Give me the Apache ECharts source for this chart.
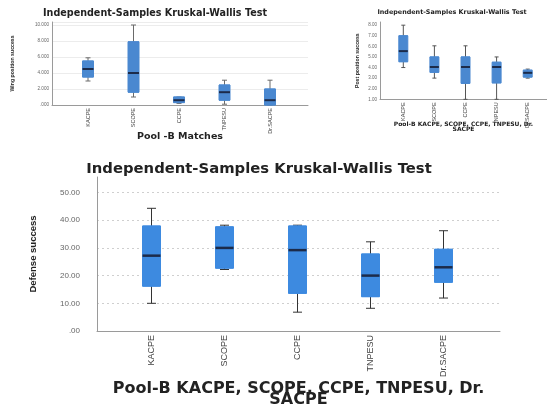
<!DOCTYPE html>
<html>
<head>
<meta charset="utf-8">
<script src="https://cdn.jsdelivr.net/npm/echarts@6/dist/echarts.min.js"></script>
<style>html,body{margin:0;padding:0;background:#fff;}#c{width:547px;height:404px;}</style>
</head>
<body>
<div id="c"></div>
<script>
// ---- data ----
var categories = ['KACPE', 'SCOPE', 'CCPE', 'TNPESU', 'Dr.SACPE'];
var titleText = 'Independent-Samples Kruskal-Wallis Test';

// top-left: Wing position success (Pool -B Matches)
var wingMin = [3.0, 1.0, 0.2, 0.1, 0.0];
var wingQ1  = [3.5, 1.6, 0.3, 0.6, 0.0];
var wingMed = [4.5, 4.0, 0.6, 1.6, 0.6];
var wingQ3  = [5.5, 7.9, 1.0, 2.5, 2.0];
var wingMax = [5.9, 10.0, 1.0, 3.1, 3.1];
var wingTicks = ['.000', '2.000', '4.000', '6.000', '8.000', '10.000'];

// top-right: Post position success
var postMin = [4.0, 3.0, 1.0, 1.0, 3.0];
var postQ1  = [4.55, 3.55, 2.5, 2.55, 3.1];
var postMed = [5.55, 4.05, 4.05, 4.05, 3.5];
var postQ3  = [7.0, 5.0, 5.0, 4.5, 3.75];
var postMax = [8.0, 6.05, 6.05, 5.0, 3.85];
var postTicks = ['1.00', '2.00', '3.00', '4.00', '5.00', '6.00', '7.00', '8.00'];

// bottom: Defense success
var defMin = [10.0, 22.2, 6.8, 8.2, 11.9];
var defQ1  = [16.2, 22.7, 13.6, 12.4, 17.6];
var defMed = [27.2, 30.0, 29.2, 20.0, 23.0];
var defQ3  = [37.9, 37.6, 37.9, 27.8, 29.5];
var defMax = [44.3, 38.2, 38.2, 32.2, 36.2];
var defTicks = ['.00', '10.00', '20.00', '30.00', '40.00', '50.00'];

// ---- build ----
var NARROW = "'Liberation Sans', sans-serif";
var panels = [
  { // top-left
    wide: {left: 52, top: 22, width: 256, height: 83},
    narrow: {left: 65.25, width: 227.5},
    yMin: 0, yMax: 10.375, interval: 2, ticks: wingTicks,
    mins: wingMin, q1: wingQ1, med: wingMed, q3: wingQ3, maxs: wingMax,
    yName: 'Wing position success', yNameSize: 5.2, yNameGap: 37,
    xName: 'Pool -B Matches', xNameSize: 9.5, xNameGap: 27, xNameLH: 9,
    tickSize: 4.6, tickMargin: 3, catSize: 5.5, catMargin: 3,
    boxW: 11, capW: 5, medW: 2, fill: '#4a88d0', whisker: '#6a6a6a',
    split: {show: true, lineStyle: {color: '#ececec', width: 1, type: 'solid'}},
    title: {x: 155, y: 13, size: 9.6}
  },
  { // top-right
    wide: {left: 380, top: 22, width: 167, height: 77.3},
    narrow: {left: 387.75, width: 155.5},
    yMin: 1, yMax: 8.3, interval: 1, ticks: postTicks,
    mins: postMin, q1: postQ1, med: postMed, q3: postQ3, maxs: postMax,
    yName: 'Post position success', yNameSize: 5.2, yNameGap: 20,
    xName: 'Pool-B KACPE, SCOPE, CCPE, TNPESU, Dr.\nSACPE', xNameSize: 6, xNameGap: 23, xNameLH: 5,
    tickSize: 4.5, tickMargin: 3, catSize: 5.5, catMargin: 3,
    boxW: 9, capW: 4, medW: 2, fill: '#4a88d0', whisker: '#555555',
    split: {show: false},
    title: {x: 452, y: 12.5, size: 6.4}
  },
  { // bottom
    wide: {left: 97, top: 177, width: 403, height: 154},
    narrow: {left: 115, width: 365},
    yMin: 0, yMax: 55.6, interval: 10, ticks: defTicks,
    mins: defMin, q1: defQ1, med: defMed, q3: defQ3, maxs: defMax,
    yName: 'Defense success', yNameSize: 9.5, yNameGap: 59,
    xName: 'Pool-B KACPE, SCOPE, CCPE, TNPESU, Dr.\nSACPE', xNameSize: 16, xNameGap: 53, xNameLH: 10.5,
    tickSize: 8, tickMargin: 17, catSize: 9, catMargin: 4,
    boxW: 18, capW: 9, medW: 2.5, fill: '#3d8ae0', whisker: '#333333',
    split: {show: true, showMaxLine: false, lineStyle: {color: '#cfcfcf', width: 1, type: [2, 3]}},
    title: {x: 259, y: 169, size: 14.8}
  }
];

var grids = [], xAxes = [], yAxes = [], series = [], titles = [];
panels.forEach(function (p, k) {
  var gW = 2 * k, gN = 2 * k + 1;
  var xW = 3 * k, xA = 3 * k + 1, xB = 3 * k + 2;
  var yW = 2 * k, yN = 2 * k + 1;
  grids.push({left: p.wide.left, top: p.wide.top, width: p.wide.width, height: p.wide.height,
    outerBoundsMode: 'none', containLabel: false});
  grids.push({left: p.narrow.left, top: p.wide.top, width: p.narrow.width, height: p.wide.height,
    outerBoundsMode: 'none', containLabel: false});
  // wide x axis: only the line + name
  xAxes.push({
    type: 'value', gridIndex: gW, min: 0, max: 1,
    axisLine: {show: true, lineStyle: {color: '#9a9a9a', width: 1}},
    axisTick: {show: false}, axisLabel: {show: false}, splitLine: {show: false},
    name: p.xName, nameLocation: 'middle', nameGap: p.xNameGap,
    nameTextStyle: {fontFamily: 'DejaVu Sans', fontWeight: 'bold', fontSize: p.xNameSize,
      color: '#222', lineHeight: p.xNameLH, verticalAlign: 'top'}
  });
  // narrow category axis with labels (whiskers)
  xAxes.push({
    type: 'category', gridIndex: gN, data: categories, boundaryGap: true,
    axisLine: {show: false}, axisTick: {show: false}, splitLine: {show: false},
    axisLabel: {show: true, rotate: 90, interval: 0, margin: p.catMargin,
      fontFamily: NARROW, fontSize: p.catSize, color: '#444'}
  });
  // narrow category axis, hidden (boxes)
  xAxes.push({
    type: 'category', gridIndex: gN, data: categories, boundaryGap: true, show: false
  });
  yAxes.push({
    type: 'value', gridIndex: gW, min: p.yMin, max: p.yMax, interval: p.interval,
    axisLine: {show: true, lineStyle: {color: '#9a9a9a', width: 1}},
    axisTick: {show: false},
    axisLabel: {show: true, showMaxLabel: false, margin: p.tickMargin,
      fontFamily: 'Liberation Sans', fontSize: p.tickSize, color: '#666',
      formatter: (function (ticks, mn, iv) {
        return function (v) {
          var i = Math.round((v - mn) / iv);
          return Math.abs(v - (mn + i * iv)) < 1e-6 && ticks[i] != null ? ticks[i] : '';
        };
      })(p.ticks, p.yMin, p.interval)},
    splitLine: p.split,
    name: p.yName, nameLocation: 'middle', nameGap: p.yNameGap,
    nameTextStyle: {fontFamily: NARROW, fontWeight: 'bold', fontSize: p.yNameSize, color: '#222'}
  });
  yAxes.push({type: 'value', gridIndex: gN, min: p.yMin, max: p.yMax, show: false, splitLine: {show: false}});

  var whiskerData = categories.map(function (c, i) {
    return [p.mins[i], p.med[i], p.med[i], p.med[i], p.maxs[i]];
  });
  var boxData = categories.map(function (c, i) {
    return [p.q1[i], p.q1[i], p.med[i], p.q3[i], p.q3[i]];
  });
  series.push({
    type: 'boxplot', xAxisIndex: xA, yAxisIndex: yN, data: whiskerData,
    boxWidth: [p.capW, p.capW],
    itemStyle: {color: 'rgba(0,0,0,0)', borderColor: p.whisker, borderWidth: 1},
    emphasis: {disabled: true}, silent: true
  });
  series.push({
    type: 'boxplot', xAxisIndex: xB, yAxisIndex: yN, data: boxData,
    boxWidth: [p.boxW, p.boxW],
    itemStyle: {color: p.fill, borderColor: p.fill, borderWidth: 1},
    emphasis: {disabled: true}, silent: true
  });
  series.push({
    type: 'scatter', xAxisIndex: xB, yAxisIndex: yN, data: p.med,
    symbol: 'rect', symbolSize: [p.boxW, p.medW],
    itemStyle: {color: '#1c2b4a', opacity: 1},
    emphasis: {disabled: true}, silent: true
  });
  titles.push({
    text: titleText, left: p.title.x, top: p.title.y, padding: 0,
    textAlign: 'center', textVerticalAlign: 'middle',
    textStyle: {fontFamily: 'DejaVu Sans', fontWeight: 'bold', fontSize: p.title.size, color: '#222'}
  });
});

var chart = echarts.init(document.getElementById('c'), null, {renderer: 'canvas'});
chart.setOption({
  animation: false,
  backgroundColor: '#ffffff',
  title: titles,
  grid: grids,
  xAxis: xAxes,
  yAxis: yAxes,
  series: series
});
</script>
</body>
</html>
